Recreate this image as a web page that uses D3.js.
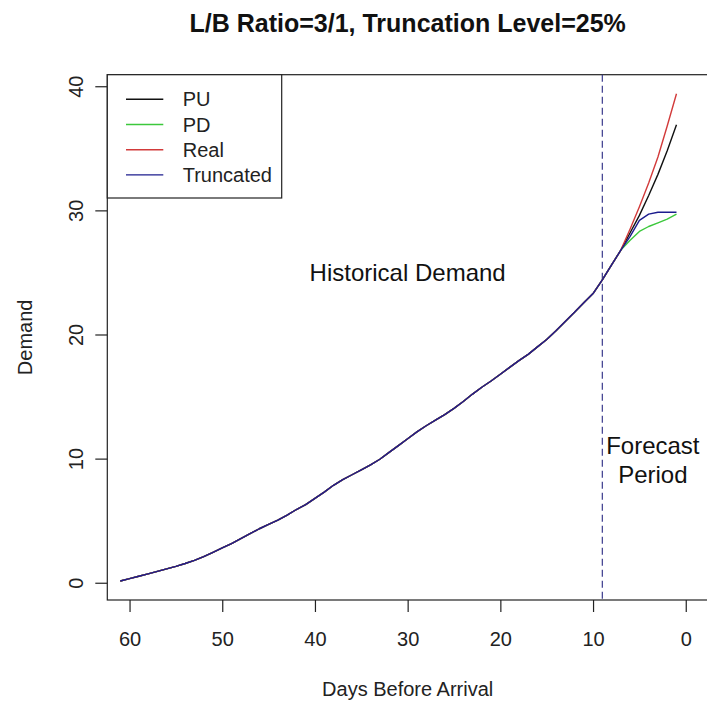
<!DOCTYPE html>
<html>
<head>
<meta charset="utf-8">
<script src="https://cdn.jsdelivr.net/npm/d3@7"></script>
<style>
  html, body { margin: 0; padding: 0; background: #fff; }
  svg { display: block; font-family: "Liberation Sans", Arial, Helvetica, sans-serif; }
</style>
</head>
<body>
<svg id="chart" width="707" height="702"></svg>
<script>
// Cumulative demand for days 61 .. 9 before arrival (shared by every series)
const historicalDays = d3.range(61, 8, -1);
const historical = [
  0.14, 0.33, 0.52, 0.72, 0.92, 1.12, 1.32, 1.55, 1.8, 2.1,
  2.45, 2.8, 3.15, 3.55, 3.95, 4.35, 4.7, 5.05, 5.45, 5.9,
  6.3, 6.8, 7.3, 7.85, 8.3, 8.7, 9.1, 9.5, 9.95, 10.5,
  11.05, 11.6, 12.15, 12.65, 13.1, 13.55, 14.05, 14.6, 15.2, 15.75,
  16.25, 16.8, 17.35, 17.9, 18.4, 19.0, 19.6, 20.3, 21.05, 21.8,
  22.55, 23.3, 24.4
];

// Forecast horizon: days 8 .. 1
const forecastDays = [8, 7, 6, 5, 4, 3, 2, 1];
const puForecast    = [25.6, 26.8, 28.2, 29.6, 31.2, 32.9, 34.8, 36.9];
const pdForecast    = [25.6, 26.8, 27.6, 28.3, 28.7, 29.0, 29.3, 29.7];
const realForecast  = [25.6, 26.8, 28.5, 30.3, 32.2, 34.3, 36.8, 39.4];
const truncForecast = [25.6, 26.8, 27.9, 29.2, 29.7, 29.85, 29.85, 29.85];

const seriesNames  = ["PU", "PD", "Real", "Truncated"];
const seriesColors = ["#111111", "#3cc83c", "#d23a3a", "#1c1c8e"];
const forecasts    = [puForecast, pdForecast, realForecast, truncForecast];

const xTicks = [60, 50, 40, 30, 20, 10, 0];
const yTicks = [0, 10, 20, 30, 40];
const forecastStart = 9;

const titleText = "L/B Ratio=3/1, Truncation Level=25%";
const xLabel = "Days Before Arrival";
const yLabel = "Demand";
const historyNote = "Historical Demand";
const forecastNote = ["Forecast", "Period"];

// Plot region
const plot = { left: 107.3, top: 74.7, right: 708, bottom: 600 };

const svg = d3.select("#chart");
const font = "'Liberation Sans', Arial, Helvetica, sans-serif";

const x = d3.scaleLinear().domain([62.4, -2.4]).range([plot.left, plot.right]);
const y = d3.scaleLinear().domain([-1.39, 40.93]).range([plot.bottom, plot.top]);

const allDays = historicalDays.concat(forecastDays);
const series = seriesNames.map((name, i) => ({
  name,
  color: seriesColors[i],
  points: allDays.map((d, j) => ({
    day: d,
    value: j < historical.length ? historical[j] : forecasts[i][j - historical.length]
  }))
}));

// Axes
const xAxis = d3.axisBottom(x).tickValues(xTicks).tickSize(12).tickSizeOuter(0).tickPadding(0).tickFormat(d3.format("d"));
const gx = svg.append("g").attr("transform", `translate(0,${plot.bottom})`).call(xAxis);
gx.select(".domain").remove();
gx.selectAll(".tick line").attr("stroke", "#222").attr("stroke-width", 1.2);
gx.selectAll(".tick text").remove();
gx.selectAll(".tick").append("text")
  .attr("y", 46).attr("text-anchor", "middle")
  .attr("font-size", 20).attr("font-family", font).attr("fill", "#222")
  .text(d => d);

const yAxis = d3.axisLeft(y).tickValues(yTicks).tickSize(12).tickSizeOuter(0).tickFormat(d3.format("d"));
const gy = svg.append("g").attr("transform", `translate(${plot.left},0)`).call(yAxis);
gy.select(".domain").remove();
gy.selectAll(".tick line").attr("stroke", "#222").attr("stroke-width", 1.2);
gy.selectAll(".tick text").remove();
gy.selectAll(".tick").append("text")
  .attr("transform", "translate(-24,0) rotate(-90)")
  .attr("text-anchor", "middle")
  .attr("font-size", 20).attr("font-family", font).attr("fill", "#222")
  .text(d => d);

// Plot frame
svg.append("rect")
  .attr("x", plot.left).attr("y", plot.top)
  .attr("width", plot.right - plot.left).attr("height", plot.bottom - plot.top)
  .attr("fill", "none").attr("stroke", "#222").attr("stroke-width", 1.2);

// Forecast boundary
svg.append("line")
  .attr("x1", x(forecastStart)).attr("x2", x(forecastStart))
  .attr("y1", plot.top).attr("y2", plot.bottom)
  .attr("stroke", "#3a3a8c").attr("stroke-width", 1.2)
  .attr("stroke-dasharray", "7,4");

// Demand curves
const line = d3.line().x(p => x(p.day)).y(p => y(p.value));
svg.append("g").selectAll("path").data(series).join("path")
  .attr("d", s => line(s.points))
  .attr("fill", "none")
  .attr("stroke", s => s.color)
  .attr("stroke-width", 1.4)
  .attr("stroke-linejoin", "round");

// Annotations
svg.append("text")
  .attr("x", x(30)).attr("y", y(25) + 8.6)
  .attr("text-anchor", "middle").attr("font-size", 24).attr("font-family", font).attr("fill", "#111")
  .text(historyNote);

svg.append("g").selectAll("text").data(forecastNote).join("text")
  .attr("x", x(3.55)).attr("y", (d, i) => 454.3 + i * 29)
  .attr("text-anchor", "middle").attr("font-size", 24).attr("font-family", font).attr("fill", "#111")
  .text(d => d);

// Legend
const legend = svg.append("g");
legend.append("rect")
  .attr("x", plot.left).attr("y", plot.top)
  .attr("width", 174.4).attr("height", 123.3)
  .attr("fill", "#fff").attr("stroke", "#222").attr("stroke-width", 1.2);
const rows = legend.selectAll("g.row").data(series).join("g")
  .attr("class", "row")
  .attr("transform", (s, i) => `translate(0,${99.3 + i * 25.2})`);
rows.append("line")
  .attr("x1", 126).attr("x2", 163.3)
  .attr("stroke", s => s.color).attr("stroke-width", 1.4);
rows.append("text")
  .attr("x", 182.7).attr("y", 7)
  .attr("font-size", 20).attr("font-family", font).attr("fill", "#222")
  .text(s => s.name);

// Titles
svg.append("text")
  .attr("x", (plot.left + plot.right) / 2).attr("y", 32)
  .attr("text-anchor", "middle").attr("font-size", 25).attr("font-weight", "bold")
  .attr("font-family", font).attr("fill", "#111")
  .text(titleText);

svg.append("text")
  .attr("x", (plot.left + plot.right) / 2).attr("y", 696)
  .attr("text-anchor", "middle").attr("font-size", 20).attr("font-family", font).attr("fill", "#222")
  .text(xLabel);

svg.append("text")
  .attr("transform", `translate(32,${(plot.top + plot.bottom) / 2}) rotate(-90)`)
  .attr("text-anchor", "middle").attr("font-size", 20).attr("font-family", font).attr("fill", "#222")
  .text(yLabel);
</script>
</body>
</html>
